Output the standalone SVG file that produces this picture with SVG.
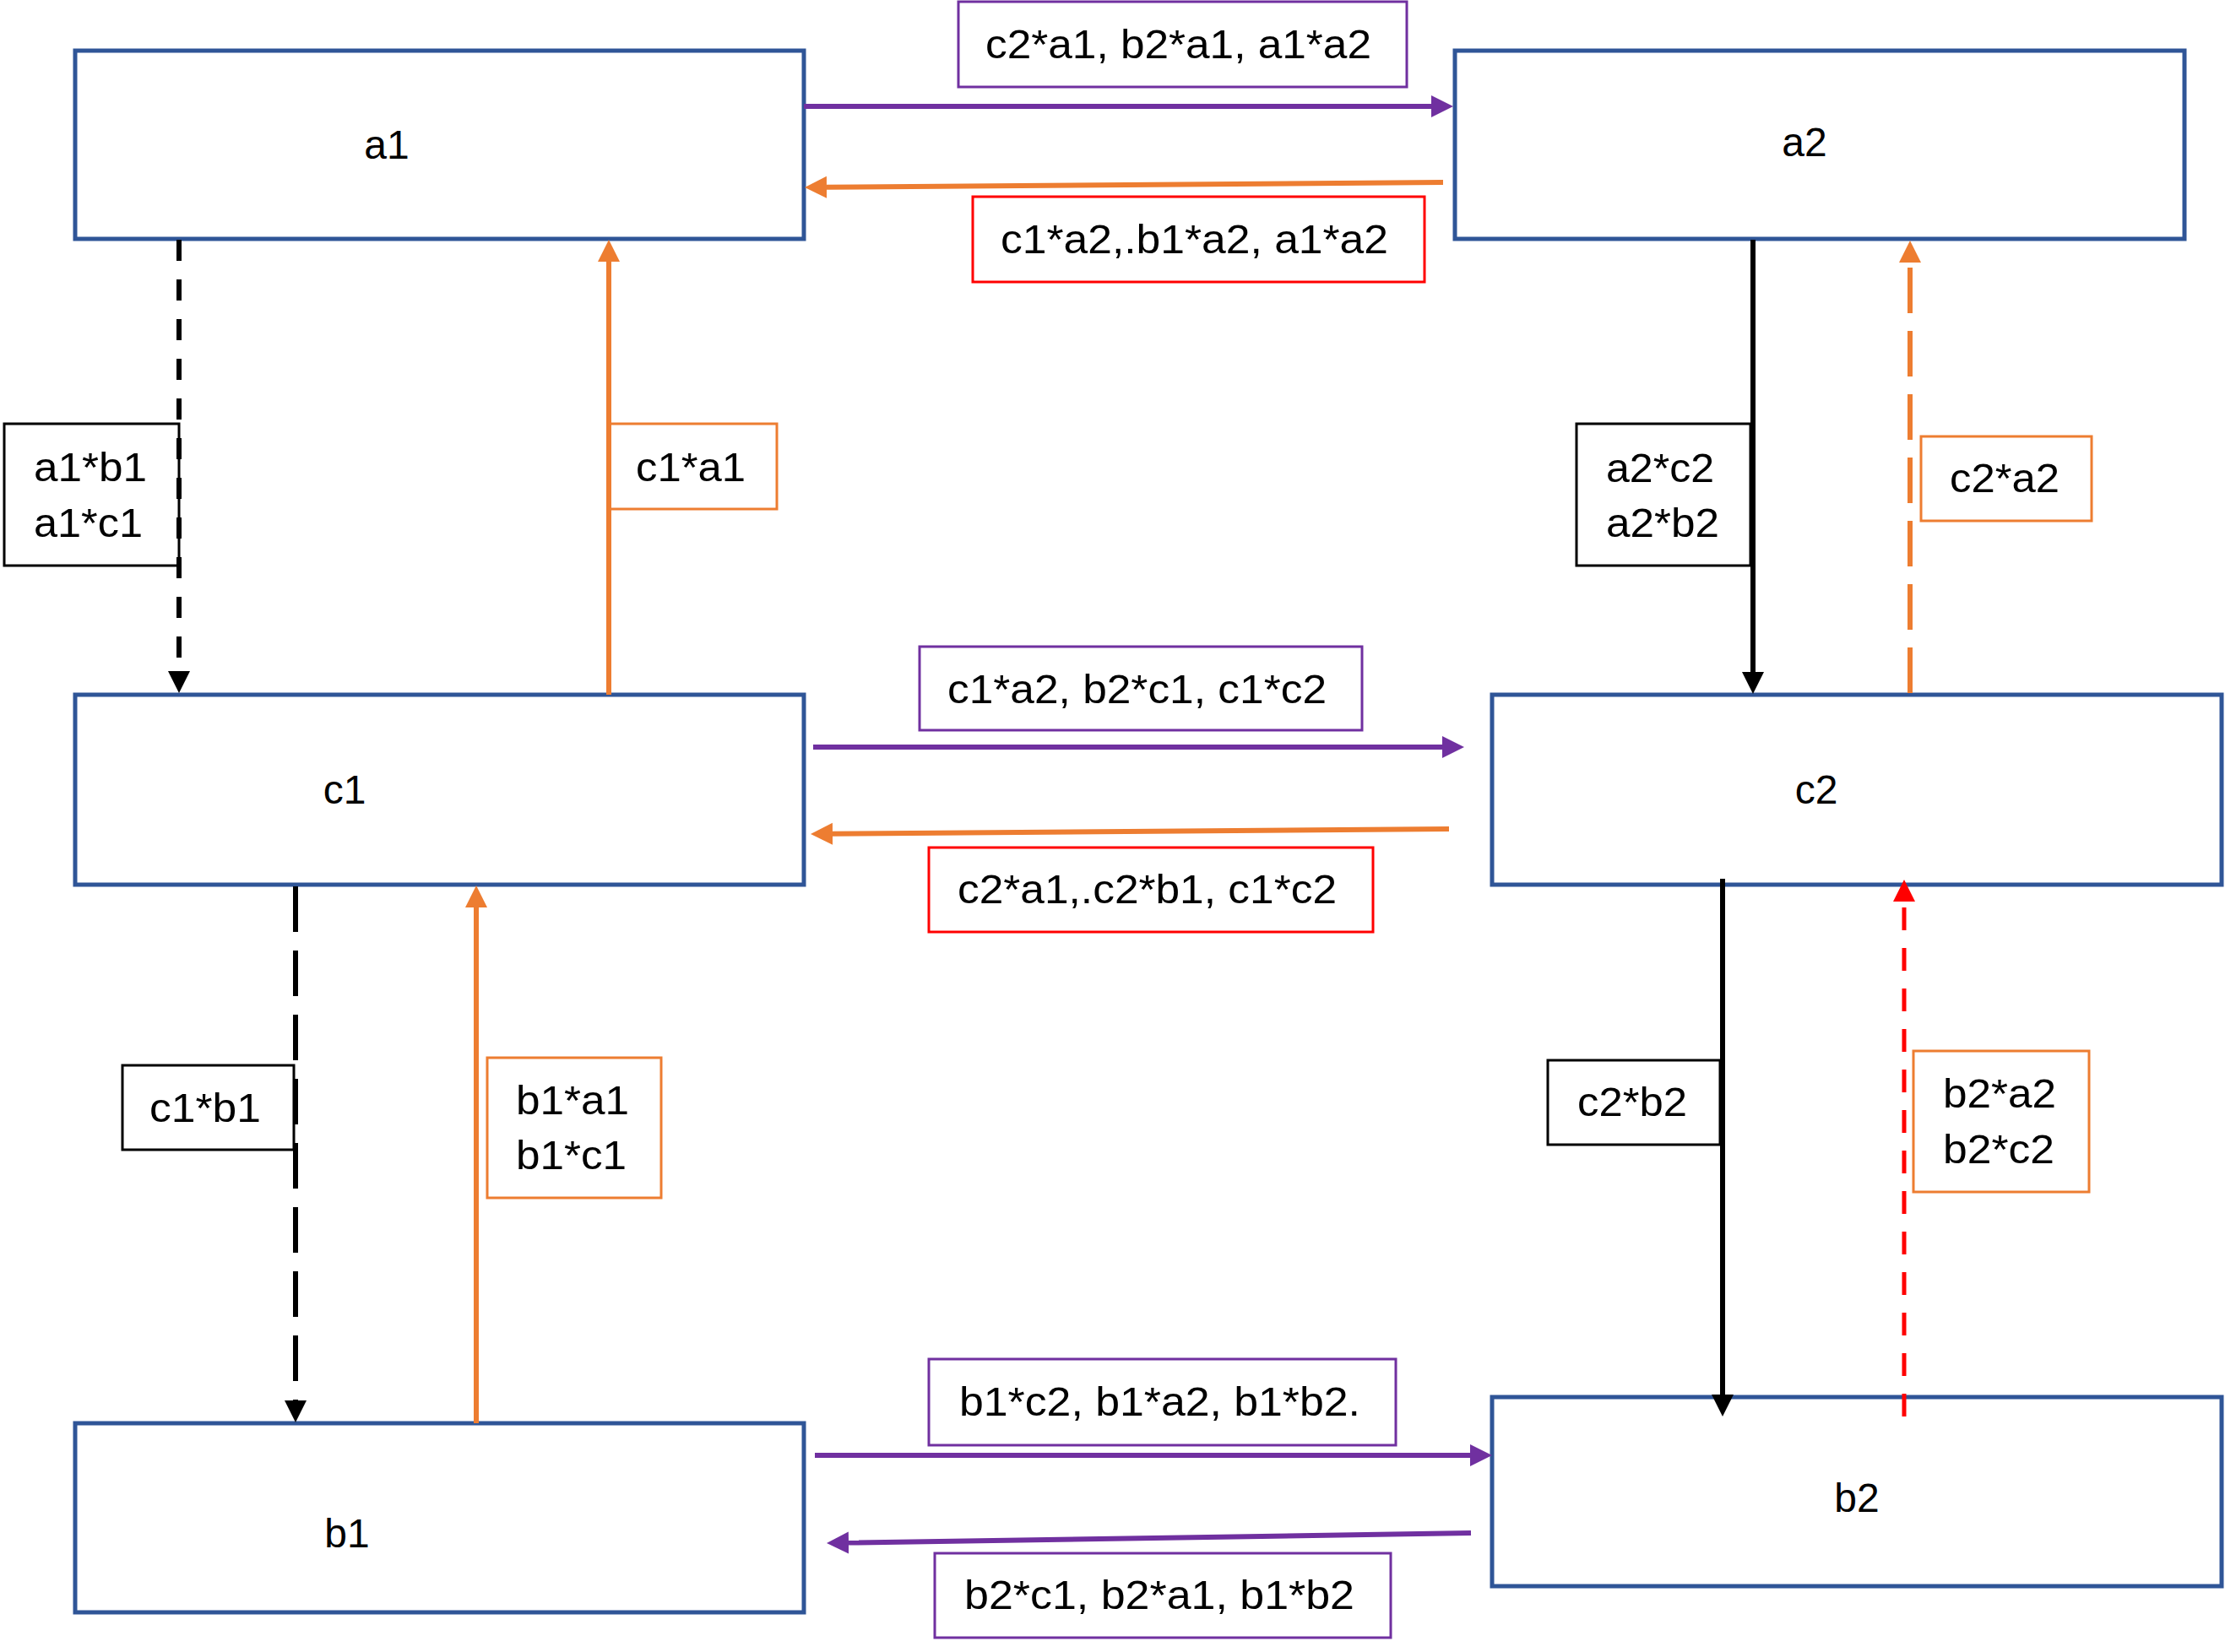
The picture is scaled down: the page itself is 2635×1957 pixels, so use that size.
<svg xmlns="http://www.w3.org/2000/svg" width="2635" height="1957" viewBox="0 0 2635 1957">
<defs>
<style>
.node{fill:#fff;stroke:#2F5597;stroke-width:5}
.ntxt{font-family:"Liberation Sans",Arial,sans-serif;font-size:48px;fill:#000;text-anchor:middle}
.ltxt{font-family:"Liberation Sans",Arial,sans-serif;font-size:48px;fill:#000}
.lp{fill:#fff;stroke:#7030A0;stroke-width:3}
.lr{fill:#fff;stroke:#FF0000;stroke-width:3}
.lo{fill:#fff;stroke:#ED7D31;stroke-width:3}
.lk{fill:#fff;stroke:#000;stroke-width:3}
.cp{fill:none;stroke:#7030A0;stroke-width:6}
.co{fill:none;stroke:#ED7D31;stroke-width:6}
.ck{fill:none;stroke:#000;stroke-width:6}
.cr{fill:none;stroke:#FF0000;stroke-width:5}
</style>
<marker id="mp" markerUnits="userSpaceOnUse" markerWidth="27" markerHeight="27" refX="0" refY="13" orient="auto"><path d="M0,0 L26,13 L0,26 z" fill="#7030A0"/></marker>
<marker id="mo" markerUnits="userSpaceOnUse" markerWidth="27" markerHeight="27" refX="0" refY="13" orient="auto"><path d="M0,0 L26,13 L0,26 z" fill="#ED7D31"/></marker>
<marker id="mk" markerUnits="userSpaceOnUse" markerWidth="27" markerHeight="27" refX="0" refY="13" orient="auto"><path d="M0,0 L26,13 L0,26 z" fill="#000"/></marker>
<marker id="mr" markerUnits="userSpaceOnUse" markerWidth="27" markerHeight="27" refX="0" refY="13" orient="auto"><path d="M0,0 L26,13 L0,26 z" fill="#FF0000"/></marker>
</defs>
<rect width="2635" height="1957" fill="#fff"/>
<g id="nodes">
<g id="a1"><rect class="node" x="89" y="60" width="863" height="223"/><text class="ntxt" x="458" y="188">a1</text></g>
<g id="a2"><rect class="node" x="1723" y="60" width="864" height="223"/><text class="ntxt" x="2137" y="185">a2</text></g>
<g id="c1"><rect class="node" x="89" y="823" width="863" height="225"/><text class="ntxt" x="408" y="952">c1</text></g>
<g id="c2"><rect class="node" x="1767" y="823" width="864" height="225"/><text class="ntxt" x="2151" y="952">c2</text></g>
<g id="b1"><rect class="node" x="89" y="1686" width="863" height="224"/><text class="ntxt" x="411" y="1833">b1</text></g>
<g id="b2"><rect class="node" x="1767" y="1655" width="864" height="224"/><text class="ntxt" x="2199" y="1791">b2</text></g>
</g>
<g id="labels">
<g id="l-a1-a2"><rect class="lp" x="1135" y="2" width="531" height="101"/><text class="ltxt" x="1167" y="69" textLength="457" lengthAdjust="spacingAndGlyphs">c2*a1, b2*a1, a1*a2</text></g>
<g id="l-a2-a1"><rect class="lr" x="1152" y="233" width="535" height="101"/><text class="ltxt" x="1185" y="300" textLength="459" lengthAdjust="spacingAndGlyphs">c1*a2,.b1*a2, a1*a2</text></g>
<g id="l-a1-c1"><rect class="lk" x="5" y="502" width="207" height="168"/><text class="ltxt" x="40" y="570" textLength="134" lengthAdjust="spacingAndGlyphs">a1*b1</text><text class="ltxt" x="40" y="636" textLength="129" lengthAdjust="spacingAndGlyphs">a1*c1</text></g>
<g id="l-c1-a1"><rect class="lo" x="721" y="502" width="199" height="101"/><text class="ltxt" x="753" y="570" textLength="130" lengthAdjust="spacingAndGlyphs">c1*a1</text></g>
<g id="l-a2-c2"><rect class="lk" x="1867" y="502" width="206" height="168"/><text class="ltxt" x="1902" y="571" textLength="128" lengthAdjust="spacingAndGlyphs">a2*c2</text><text class="ltxt" x="1902" y="636" textLength="134" lengthAdjust="spacingAndGlyphs">a2*b2</text></g>
<g id="l-c2-a2"><rect class="lo" x="2275" y="517" width="202" height="100"/><text class="ltxt" x="2309" y="583" textLength="130" lengthAdjust="spacingAndGlyphs">c2*a2</text></g>
<g id="l-c1-c2"><rect class="lp" x="1089" y="766" width="524" height="99"/><text class="ltxt" x="1122" y="833" textLength="449" lengthAdjust="spacingAndGlyphs">c1*a2, b2*c1, c1*c2</text></g>
<g id="l-c2-c1"><rect class="lr" x="1100" y="1004" width="526" height="100"/><text class="ltxt" x="1134" y="1070" textLength="449" lengthAdjust="spacingAndGlyphs">c2*a1,.c2*b1, c1*c2</text></g>
<g id="l-c1-b1"><rect class="lk" x="145" y="1262" width="203" height="100"/><text class="ltxt" x="177" y="1329" textLength="132" lengthAdjust="spacingAndGlyphs">c1*b1</text></g>
<g id="l-b1-c1"><rect class="lo" x="577" y="1253" width="206" height="166"/><text class="ltxt" x="611" y="1320" textLength="134" lengthAdjust="spacingAndGlyphs">b1*a1</text><text class="ltxt" x="611" y="1385" textLength="131" lengthAdjust="spacingAndGlyphs">b1*c1</text></g>
<g id="l-c2-b2"><rect class="lk" x="1833" y="1256" width="204" height="100"/><text class="ltxt" x="1868" y="1322" textLength="130" lengthAdjust="spacingAndGlyphs">c2*b2</text></g>
<g id="l-b2-c2"><rect class="lo" x="2266" y="1245" width="208" height="167"/><text class="ltxt" x="2301" y="1312" textLength="134" lengthAdjust="spacingAndGlyphs">b2*a2</text><text class="ltxt" x="2301" y="1378" textLength="132" lengthAdjust="spacingAndGlyphs">b2*c2</text></g>
<g id="l-b1-b2"><rect class="lp" x="1100" y="1610" width="553" height="102"/><text class="ltxt" x="1136" y="1677" textLength="475" lengthAdjust="spacingAndGlyphs">b1*c2, b1*a2, b1*b2.</text></g>
<g id="l-b2-b1"><rect class="lp" x="1107" y="1840" width="540" height="100"/><text class="ltxt" x="1142" y="1906" textLength="462" lengthAdjust="spacingAndGlyphs">b2*c1, b2*a1, b1*b2</text></g>
</g>
<g id="connectors">
<line class="cp" x1="952" y1="126" x2="1695" y2="126" marker-end="url(#mp)"/>
<line class="co" x1="1709" y1="216" x2="979" y2="221.8" marker-end="url(#mo)"/>
<line class="ck" x1="212" y1="284" x2="212" y2="795" stroke-width="5" stroke-dasharray="25 22" marker-end="url(#mk)"/>
<line class="co" x1="721" y1="823" x2="721" y2="310" marker-end="url(#mo)"/>
<line class="ck" x1="2076" y1="284" x2="2076" y2="796" marker-end="url(#mk)"/>
<line class="co" x1="2262" y1="821" x2="2262" y2="311" stroke-dasharray="54 21" marker-end="url(#mo)"/>
<line class="cp" x1="963" y1="885" x2="1708" y2="885" marker-end="url(#mp)"/>
<line class="co" x1="1716" y1="982" x2="986" y2="987.8" marker-end="url(#mo)"/>
<line class="ck" x1="350" y1="1050" x2="350" y2="1659" stroke-dasharray="54 22" marker-end="url(#mk)"/>
<line class="co" x1="564" y1="1686" x2="564" y2="1075" marker-end="url(#mo)"/>
<line class="ck" x1="2040" y1="1041" x2="2040" y2="1652" marker-end="url(#mk)"/>
<line class="cr" x1="2255" y1="1678" x2="2255" y2="1068" stroke-dasharray="27 21" marker-end="url(#mr)"/>
<line class="cp" x1="965" y1="1724" x2="1741" y2="1724" marker-end="url(#mp)"/>
<line class="cp" x1="1742" y1="1816" x2="1005" y2="1827.6" marker-end="url(#mp)"/>
</g>
</svg>
